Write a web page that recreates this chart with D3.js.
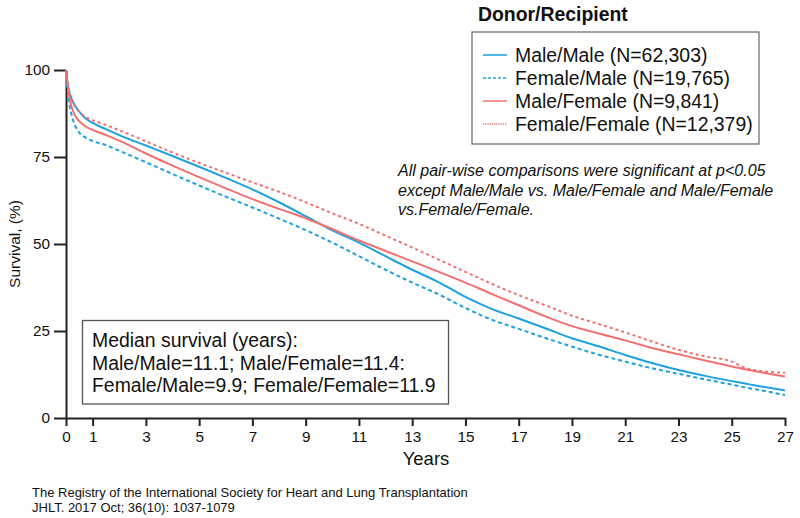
<!DOCTYPE html>
<html>
<head>
<meta charset="utf-8">
<script src="https://cdn.jsdelivr.net/npm/d3@7"></script>
<style>
  body { margin: 0; background: #fff; }
  svg { display: block; font-family: "Liberation Sans", Arial, Helvetica, sans-serif; }
</style>
</head>
<body>
<svg id="chart" width="800" height="518"></svg>
<script>
// ---- Data ----
const years        = [0, 0.05, 0.1, 0.25, 0.5, 0.75, 1, 1.5, 2, 3, 4, 5, 6, 7, 8, 9, 10, 11, 12, 13, 14, 15, 16, 17, 18, 19, 20, 21, 22, 23, 24, 25, 25.5, 26, 27];
const maleMale     = [100, 96.5, 94.5, 91, 88, 86, 84.8, 83, 81.3, 78.3, 75.3, 72.2, 69.0, 65.7, 62.0, 58.0, 53.9, 50.4, 46.5, 42.6, 39.0, 34.8, 31.3, 28.6, 25.8, 22.9, 20.6, 18.1, 15.8, 13.8, 12.1, 10.6, 9.9, 9.2, 7.9];
const femaleMale   = [100, 95, 91.5, 86, 82, 80.5, 79.6, 78.4, 76.8, 73.5, 70.1, 66.8, 63.6, 60.5, 57.3, 54.0, 50.4, 46.5, 42.6, 38.9, 35.5, 31.6, 28.2, 25.6, 23.0, 20.5, 18.2, 16.2, 14.3, 12.7, 11.1, 9.6, 8.8, 8.1, 6.6];
const maleFemale   = [100, 97, 93.5, 88.5, 85.3, 83.7, 82.8, 81.3, 79.7, 76.0, 72.5, 69.2, 66.0, 62.9, 60.1, 57.4, 54.3, 51.0, 48.0, 45.0, 42.0, 38.9, 35.6, 32.4, 29.2, 26.4, 24.3, 22.3, 20.1, 18.3, 16.5, 14.8, 14.0, 13.3, 11.9];
const femaleFemale = [100, 96.5, 94.5, 91, 88.1, 86.4, 85.6, 84.2, 82.7, 79.5, 76.3, 73.3, 70.5, 67.7, 65.0, 62.0, 58.8, 55.8, 52.4, 49.0, 45.5, 42.0, 38.5, 35.3, 32.4, 29.4, 27.0, 24.6, 22.0, 19.6, 17.7, 16.2, 14.4, 13.6, 13.0];

const seriesNames  = ["Male/Male (N=62,303)", "Female/Male (N=19,765)", "Male/Female (N=9,841)", "Female/Female (N=12,379)"];
const xTicks       = [0, 1, 3, 5, 7, 9, 11, 13, 15, 17, 19, 21, 23, 25, 27];
const yTicks       = [0, 25, 50, 75, 100];
const medianLines  = ["Median survival (years):", "Male/Male=11.1; Male/Female=11.4:", "Female/Male=9.9; Female/Female=11.9"];
const noteLines    = ["All pair-wise comparisons were significant at p<0.05", "except Male/Male vs. Male/Female and Male/Female", "vs.Female/Female."];
const footerLines  = ["The Registry of the International Society for Heart and Lung Transplantation", "JHLT. 2017 Oct; 36(10): 1037-1079"];

// ---- Styles ----
const BLUE = "#1da1e0", RED = "#f27070";
const styles = [
  { color: BLUE, dash: null },
  { color: BLUE, dash: "4,3" },
  { color: RED,  dash: null },
  { color: RED,  dash: "3,3" }
];
const seriesValues = [maleMale, femaleMale, maleFemale, femaleFemale];

const svg = d3.select("#chart");
const x = d3.scaleLinear().domain([0, 27]).range([66, 785]);
const y = d3.scaleLinear().domain([0, 100]).range([418, 70]);

// Axes
const xAxis = svg.append("g").attr("transform", `translate(0,${y(0)})`)
  .call(d3.axisBottom(x).tickValues(xTicks).tickFormat(d3.format("d")).tickSize(8).tickSizeOuter(0).tickPadding(5));
const yAxis = svg.append("g").attr("transform", `translate(${x(0)},0)`)
  .call(d3.axisLeft(y).tickValues(yTicks).tickSize(12).tickSizeOuter(0).tickPadding(4));
[xAxis, yAxis].forEach(g => {
  g.selectAll("path.domain").attr("stroke", "#222").attr("stroke-width", 2);
  g.selectAll(".tick line").attr("stroke", "#222").attr("stroke-width", 2);
  g.selectAll(".tick text").attr("fill", "#111").style("font-size", "15.3px").style("font-family", "Liberation Sans, Arial, sans-serif");
});

// Axis titles
svg.append("text").attr("x", 426).attr("y", 465).attr("text-anchor", "middle")
  .style("font-size", "18.5px").attr("fill", "#111").text("Years");
svg.append("text").attr("transform", "translate(20,244) rotate(-90)").attr("text-anchor", "middle")
  .style("font-size", "15.5px").attr("fill", "#111").text("Survival, (%)");

// Curves
const line = d3.line().x((d, i) => x(years[i])).y(d => y(d)).curve(d3.curveMonotoneX);
seriesValues.forEach((vals, k) => {
  svg.append("path").datum(vals)
    .attr("d", line)
    .attr("fill", "none")
    .attr("stroke", styles[k].color)
    .attr("stroke-width", 2)
    .attr("stroke-dasharray", styles[k].dash);
});

// Legend
svg.append("text").attr("x", 478).attr("y", 21).style("font-size", "19.4px").style("font-weight", "bold")
  .attr("fill", "#111").text("Donor/Recipient");
svg.append("rect").attr("x", 472).attr("y", 32).attr("width", 287).attr("height", 112)
  .attr("fill", "#fff").attr("stroke", "#666").attr("stroke-width", 1.2);
seriesNames.forEach((name, k) => {
  const cy = 55 + k * 23;
  svg.append("line").attr("x1", 483).attr("x2", 507).attr("y1", cy).attr("y2", cy)
    .attr("stroke", styles[k].color).attr("stroke-width", 1.5)
    .attr("stroke-dasharray", k === 1 ? "3,2" : (k === 3 ? "1.2,1" : null));
  svg.append("text").attr("x", 515).attr("y", cy + 6.5).style("font-size", "19.4px")
    .attr("fill", "#111").text(name);
});

// Note
noteLines.forEach((t, i) => {
  svg.append("text").attr("x", 398).attr("y", 176 + i * 19.5).style("font-size", "16px")
    .style("font-style", "italic").attr("fill", "#111").text(t);
});

// Median box
svg.append("rect").attr("x", 82.5).attr("y", 320.5).attr("width", 366).attr("height", 83.5)
  .attr("fill", "#fff").attr("stroke", "#555").attr("stroke-width", 1.3);
medianLines.forEach((t, i) => {
  svg.append("text").attr("x", 92).attr("y", 347 + i * 22.5).style("font-size", "19.4px")
    .attr("fill", "#111").text(t);
});

// Footer
footerLines.forEach((t, i) => {
  svg.append("text").attr("x", 32).attr("y", 496.5 + i * 15).style("font-size", "13px")
    .attr("fill", "#111").text(t);
});
</script>
</body>
</html>
